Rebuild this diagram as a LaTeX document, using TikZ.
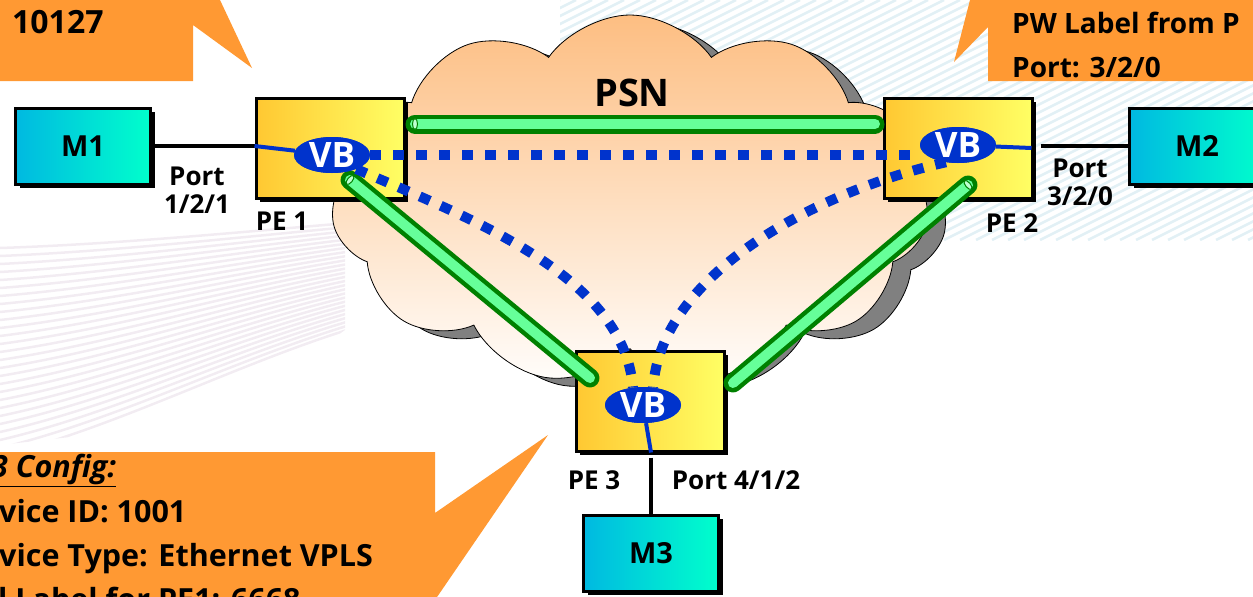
\documentclass[tikz,border=0pt]{standalone}
\usepackage{fontspec}
\setmainfont{Open Sans}
\usepackage{tikz}
\usetikzlibrary{calc,shapes.geometric,shapes.symbols,shadows}
\definecolor{callout}{RGB}{255,153,51}
\definecolor{vbblue}{RGB}{0,51,204}
\definecolor{pwdark}{RGB}{0,128,0}
\definecolor{pwlight}{RGB}{102,255,153}
\definecolor{pwcap}{RGB}{190,255,210}
\definecolor{custleft}{RGB}{0,185,225}
\definecolor{custright}{RGB}{0,255,204}
\definecolor{peleft}{RGB}{255,200,50}
\definecolor{peright}{RGB}{255,255,100}
\definecolor{cloudtop}{RGB}{253,190,130}
\definecolor{cloudbot}{RGB}{255,253,251}
\definecolor{cloudshadow}{RGB}{128,128,128}
\definecolor{stripepink}{RGB}{242,236,242}
\definecolor{stripeblue}{RGB}{226,240,245}
\newcommand{\px}[1]{\fontsize{#1}{#1}\selectfont\bfseries}

\begin{document}
\begin{tikzpicture}[
  x=1pt, y=-1pt,
  box/.style={draw=black, line width=3pt, rectangle, inner sep=0pt,
              drop shadow={shadow xshift=4pt, shadow yshift=-4pt, opacity=1, fill=black}},
  cust/.style={box, left color=custleft, right color=custright,
               minimum width=135pt, minimum height=76pt, font=\px{29}},
  pe/.style={box, left color=peleft, right color=peright,
             minimum width=148pt, minimum height=100pt},
  vb/.style={ellipse, fill=vbblue, text=white, inner sep=0pt,
             minimum width=76pt, minimum height=36pt, font=\px{35}},
  lnk/.style={draw=black, line width=4.5pt},
  vbl/.style={draw=vbblue, line width=4pt},
  vbdot/.style={draw=vbblue, line width=10pt, dash pattern=on 11pt off 12pt},
  pw/.style={draw=pwdark, line width=4.5pt, double=pwlight, double distance=10pt,
             line cap=round},
  pwend/.style={ellipse, draw=pwdark, line width=1pt, fill=pwcap, inner sep=0pt,
                minimum width=5pt, minimum height=11pt},
  lbl/.style={inner sep=0pt, font=\px{26}, align=center},
  ctext/.style={inner sep=0pt, font=\px{30.5}, anchor=base west},
  stripe/.style={line width=2.5pt},
]
\useasboundingbox (0,0) rectangle (1253,597);
\clip (0,0) rectangle (1253,597);

% ---------- faint background stripes ----------
\begin{scope}
  \clip (0,228) -- (345,222) -- (345,330) -- (220,420) -- (0,445) -- cycle;
  \foreach \i in {0,...,26}
    \draw[stripe, draw=stripepink] (0,{248+\i*8}) .. controls (120,{244+\i*7})
      and (240,{232+\i*5}) .. (360,{222+\i*4});
\end{scope}
\begin{scope}
  \clip (560,0) rectangle (1253,240);
  \foreach \i in {-30,...,44}
    \draw[stripe, draw=stripeblue] ({560+\i*16},240) -- ++(480,-240);
\end{scope}

% ---------- callouts ----------
\fill[callout] (0,0) -- (220,0) -- (252,68) -- (193,25) -- (193,81) -- (0,81) -- cycle;
\node[ctext, font=\px{32}] (c1a) at (12,34) {10127};

\fill[callout] (970,0) -- (1253,0) -- (1253,81) -- (988,81) -- (988,27) -- (954,62) -- cycle;
\node[ctext, font=\px{28}] (c2a) at (1012,33) {PW Label from P};
\node[ctext, font=\px{28}] (c2b) at (1012,77) {Port: 3/2/0};

\fill[callout] (0,452) -- (435,452) -- (435,513) -- (548,435) -- (435,600) -- (0,600) -- cycle;
\node[ctext] (c3a) at (-9,477) {\underline{\itshape 3 Config:}};
\node[ctext] (c3b) at (-1,522) {vice ID: 1001};
\node[ctext] (c3c) at (-1,566) {vice Type: Ethernet VPLS};
\node[ctext] (c3d) at (-2,610) {l Label for PE1: 6668};

% ---------- the PSN cloud ----------
\node[cloud, cloud puffs=11, cloud puff arc=110, aspect=1.65,
      minimum width=598pt, minimum height=370pt, draw=black, line width=0.8pt,
      top color=cloudtop, bottom color=cloudbot,
      drop shadow={shadow xshift=18pt, shadow yshift=-8pt, opacity=1,
                   fill=cloudshadow, draw=black, line width=0.8pt}]
  (psn) at (630,200) {};
\node[font=\px{38}, inner sep=0pt] (psnlbl) at (632,93) {PSN};

% ---------- edge routers and customer sites ----------
\node[pe] (pe1) at (330,148) {};
\node[pe] (pe2) at (958,148) {};
\node[pe] (pe3) at (650,401) {};
\node[cust] (m1) at (83,146) {M1};
\node[cust] (m2) at (1197,146) {M2};
\node[cust] (m3) at (651,553) {M3};

\coordinate (p1) at (pe1.west |- m1.east);
\coordinate (p2) at ($(pe2.east |- m2.west)+(1,0)$);
\coordinate (p3) at (pe3.south -| m3.north);
\draw[lnk] (m1.east) -- (p1);
\draw[lnk] ($(p2)+(6,0)$) -- (m2.west);
\draw[lnk] ($(p3)+(0,5)$) -- (m3.north);

% ---------- pseudowires ----------
\coordinate (pw12a) at ($(pe1.center)+(85,-24)$);
\coordinate (pw12b) at ($(pe2.center)+(-83,-24)$);
\coordinate (pw13a) at ($(pe1.center)+(20,32)$);
\coordinate (pw13b) at ($(pe3.center)+(-60,-23)$);
\coordinate (pw23a) at ($(pe2.center)+(10,37)$);
\coordinate (pw23b) at ($(pe3.center)+(83,-18)$);
\draw[pw] (pw12a) -- (pw12b);
\draw[pw] (pw13a) -- (pw13b);
\draw[pw] (pw23a) -- (pw23b);
\node[pwend] (e12) at (pw12a) {};
\node[pwend, rotate=-39.5] (e13) at (pw13a) {};
\node[pwend, rotate=40] (e23) at (pw23a) {};

% ---------- virtual bridges ----------
\node[vb] (vb1) at (332,155) {VB};
\node[vb] (vb2) at (958,145) {VB};
\node[vb] (vb3) at (643,405) {VB};

\draw[vbdot] (vb1.east |- 0,155) -- (vb2.west |- 0,155);
\draw[vbdot] (vb1.-30) .. controls +(105,46) and +(-9,-114) .. (vb3.120);
\draw[vbdot] (vb2.-125) .. controls +(-129,29) and +(8,-114) .. (vb3.60);

\draw[vbl] (p1) -- (vb1);
\draw[vbl] (vb2) -- ($(pe2.east |- m2.west)+(-2,2)$);
\draw[vbl] (vb3) -- (p3);
\node[vb] (vb1b) at (vb1) {VB};
\node[vb] (vb2b) at (vb2) {VB};
\node[vb] (vb3b) at (vb3) {VB};

% ---------- labels ----------
\node[lbl] (port1) at (197,190) {Port\\[2pt]1/2/1};
\node[lbl] (port2) at (1080,182) {Port\\[2pt]3/2/0};
\node[lbl] (port3) at (736,480) {Port 4/1/2};
\node[lbl] (lpe1) at (282,221) {PE 1};
\node[lbl] (lpe2) at (1012,223) {PE 2};
\node[lbl] (lpe3) at (594,480) {PE 3};
\end{tikzpicture}
\end{document}
